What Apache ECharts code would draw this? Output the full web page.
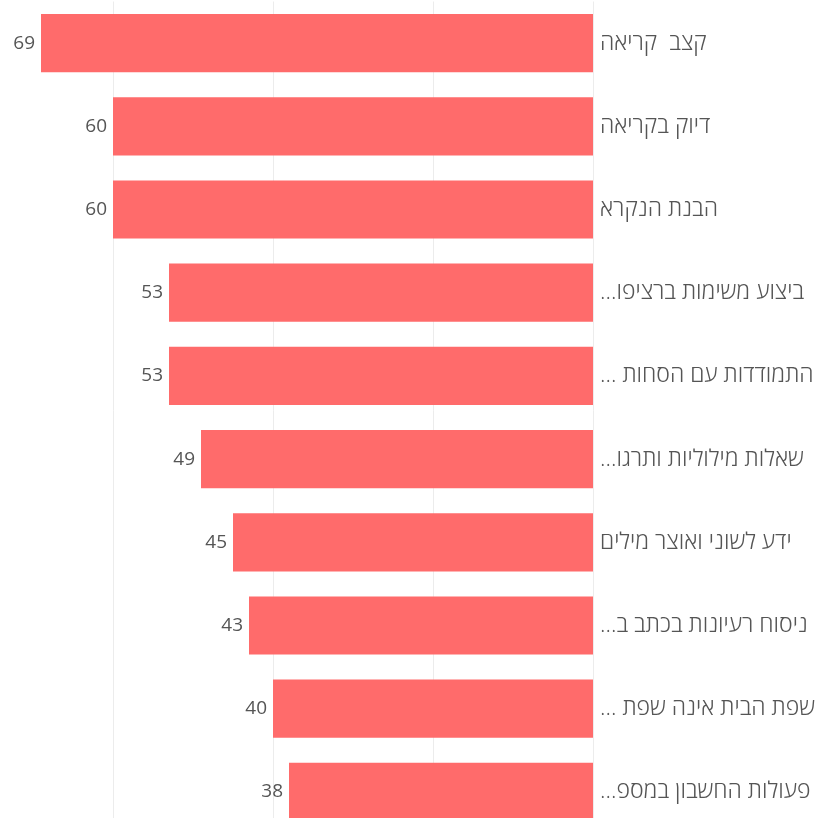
<!DOCTYPE html>
<html>
<head>
<meta charset="utf-8">
<script src="https://cdn.jsdelivr.net/npm/echarts@6/dist/echarts.min.js"></script>
<style>
html,body{margin:0;padding:0;background:#fff;}
#chart{width:819px;height:818px;}
</style>
</head>
<body>
<div id="chart"></div>
<script>
// Categories top to bottom (as displayed, truncated labels keep their ellipsis)
var categories = [
  "קצב  קריאה",
  "דיוק בקריאה",
  "הבנת הנקרא",
  "…ביצוע משימות ברציפו",
  "… התמודדות עם הסחות",
  "…שאלות מילוליות ותרגו",
  "ידע לשוני ואוצר מילים",
  "…ניסוח רעיונות בכתב ב",
  "… שפת הבית אינה שפת",
  "…פעולות החשבון במספ"
];
var values = [69, 60, 60, 53, 53, 49, 45, 43, 40, 38];
var xTicks = [0, 20, 40, 60, 80];

var chart = echarts.init(document.getElementById('chart'), null, {renderer: 'canvas'});
chart.setOption({
  animation: false,
  backgroundColor: '#ffffff',
  grid: {left: -47, right: 226, top: 1.5, height: 832, containLabel: false, outerBoundsMode: 'none'},
  xAxis: {
    type: 'value',
    inverse: true,
    min: xTicks[0],
    max: xTicks[xTicks.length - 1],
    interval: 20,
    axisLine: {show: false},
    axisTick: {show: false},
    axisLabel: {show: false},
    splitLine: {show: true, lineStyle: {color: '#ececec', width: 1}}
  },
  yAxis: {
    type: 'category',
    data: categories,
    inverse: true,
    position: 'right',
    axisLine: {show: false},
    axisTick: {show: false},
    axisLabel: {
      show: true,
      align: 'left',
      margin: 7,
      color: '#555555',
      fontSize: 23,
      fontWeight: 300,
      fontFamily: '"Open Sans", "Noto Sans", sans-serif'
    }
  },
  series: [{
    type: 'bar',
    data: values,
    barCategoryGap: '30%',
    itemStyle: {color: '#ff6b6b'},
    label: {
      show: true,
      position: 'left',
      distance: 6,
      color: '#555555',
      fontSize: 19,
      fontFamily: '"Open Sans", "Noto Sans", sans-serif'
    }
  }]
});
</script>
</body>
</html>
